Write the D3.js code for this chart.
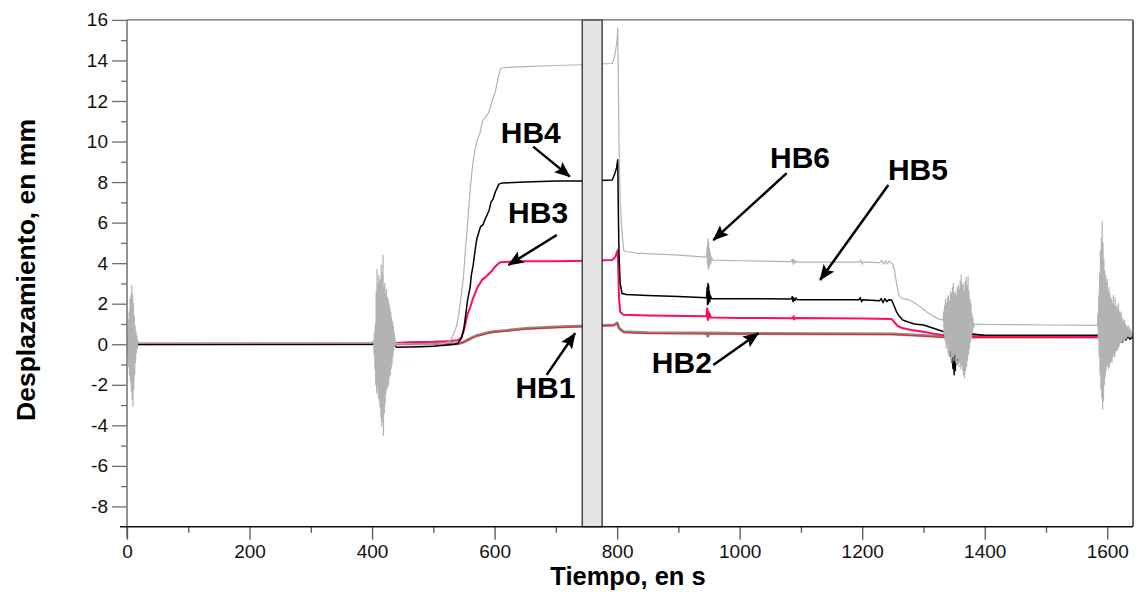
<!DOCTYPE html>
<html>
<head>
<meta charset="utf-8">
<script src="https://cdn.jsdelivr.net/npm/d3@7"></script>
<style>
  body { margin: 0; background: #fff; }
  svg { display: block; font-family: "Liberation Sans", Arial, sans-serif; }
</style>
</head>
<body>
<svg id="chart" width="1137" height="598"></svg>
<script>
// ---------------- DATA ----------------
const xTicks = [0, 200, 400, 600, 800, 1000, 1200, 1400, 1600];
const xMinorTicks = [100, 300, 500, 700, 900, 1100, 1300, 1500];
const yTicks = [-8, -6, -4, -2, 0, 2, 4, 6, 8, 10, 12, 14, 16];
const yMinorTicks = [-7, -5, -3, -1, 1, 3, 5, 7, 9, 11, 13, 15];
const xDomain = [0, 1642];
const yDomain = [-9, 16];
const shadedSpan = [743, 775.5];

// HB6 (light gray)
const hb6 = [
  [0,0],[0.7,0.5],[1.4,-0.6],[2.1,1.2],[2.8,-1.1],[3.5,1.6],[4.2,-1.5],[4.9,2.2],[5.6,-1.8],[6.3,2.4],[7,-2.3],[7.7,2.9],[8.4,-2.7],[9.1,2.5],[9.8,-3.06],[10.5,2.0],[11.2,-2.2],[11.9,1.4],[12.6,-1.5],[13.3,0.9],[14,-0.9],[14.7,0.6],[15.4,-0.4],[16.1,0.4],[16.8,-0.2],[17.5,0.2],[18.5,0.05],
  [200,0.05],[400,0.05],[402.5,0.2],[403.2,-0.5],[403.9,0.6],[404.6,-1.2],[405.3,1.0],[406,-2.0],[406.7,2.6],[407.4,-2.4],[408.1,3.7],[408.8,-2.1],[409.5,3.0],[410.2,-2.6],[410.9,3.4],[411.6,-2.8],[412.3,3.1],[413,-3.1],[413.7,3.2],[414.4,-3.6],[415.1,3.9],[415.8,-4.05],[416.5,3.5],[417.2,-3.8],[417.9,4.4],[418.6,-4.5],[419.3,2.8],[420,-3.4],[420.7,3.0],[421.4,-2.9],[422.1,2.5],[422.8,-2.4],[423.5,2.7],[424.2,-2.2],[424.9,2.3],[425.6,-2.1],[426.3,2.2],[427,-2.0],[427.7,2.0],[428.4,-1.6],[429.1,1.8],[429.8,-1.5],[430.5,1.6],[431.2,-1.2],[431.9,1.3],[432.6,-1.0],[433.3,1.1],[434,-0.6],[434.7,0.9],[435.4,-0.3],[436.1,0.6],[436.8,-0.1],[437.5,0.3],[438.2,0.0],[439.5,0.03],
  [480,0.0],[510,0.02],[520,0.06],[528,0.2],[533,0.5],[538,0.9],[542,1.6],[546,2.5],[549,3.3],[552,4.5],[556,6.0],[560,7.6],[564,8.8],[568,9.6],[572,10.1],[576,10.4],[580,11.0],[585,11.2],[590,11.4],[594,11.8],[598,12.2],[601,12.4],[604,12.9],[607,13.3],[610,13.6],[615,13.65],[650,13.7],[700,13.75],[750,13.8],[792,13.85],[796,14.2],[800,15.0],[801,15.6],[803,10.0],[805,7.0],[808,5.5],[811,4.6],[830,4.5],[900,4.4],[946,4.3],
  [947,4.8],[947.6,3.9],[948.2,5.2],[948.8,3.7],[949.4,5.0],[950,3.8],[950.6,4.7],[951.2,3.9],[952,4.5],[953,4.0],[954,4.3],[956,4.15],[1000,4.12],[1084,4.08],[1086,4.2],[1087,3.95],[1088,4.18],[1090,4.0],[1092,4.12],[1094,4.05],[1196,4.05],[1198,4.15],[1200,3.95],[1202,4.05],[1229,4.03],[1232,4.15],[1235,3.95],[1238,4.12],[1241,3.96],[1244,4.1],[1247,4.02],
  [1250,3.95],[1253,3.6],[1256,3.0],[1260,2.4],[1265,2.25],[1275,2.2],[1283,2.1],[1290,1.95],[1295,1.85],[1305,1.6],[1315,1.4],[1325,1.25],[1331,1.2],
  [1332,1.2],[1332.8,1.6],[1333.6,0.5],[1334.4,1.9],[1335.2,0.2],[1336,2.2],[1336.8,-0.2],[1337.6,2.0],[1338.4,0.0],[1339.2,2.3],[1340,-0.4],[1340.8,2.4],[1341.6,-0.6],[1342.4,2.1],[1343.2,-0.3],[1344,2.6],[1344.8,-0.7],[1345.6,2.5],[1346.4,-0.9],[1347.2,2.8],[1348,-0.6],[1348.8,3.0],[1349.6,-0.8],[1350.4,2.5],[1351.2,-0.5],[1352,2.6],[1352.8,-0.9],[1353.6,2.4],[1354.4,-1.0],[1355.2,2.8],[1356,-0.7],[1356.8,2.9],[1357.6,-1.1],[1358.4,2.7],[1359.2,-0.9],[1360,3.1],[1360.8,-1.2],[1361.6,3.42],[1362.4,-1.0],[1363.2,2.9],[1364,-1.3],[1364.8,3.0],[1365.6,-1.5],[1366.4,2.6],[1367.2,-1.65],[1368,3.1],[1368.8,-1.3],[1369.6,3.3],[1370.4,-1.1],[1371.2,2.9],[1372,-0.8],[1372.8,3.35],[1373.6,-0.5],[1374.4,2.6],[1375.2,-0.2],[1376,2.2],[1376.8,0.1],[1377.6,2.0],[1378.4,0.3],[1379.2,1.5],[1380,0.6],[1380.8,1.3],[1381.6,0.8],[1383,1.0],
  [1400,0.98],[1500,0.95],[1584,0.93],
  [1584.7,1.5],[1585.4,0.2],[1586.1,2.4],[1586.8,-0.6],[1587.5,3.5],[1588.2,-1.5],[1588.9,4.6],[1589.6,-2.2],[1590.3,5.2],[1591,-2.6],[1591.7,6.05],[1592.4,-3.2],[1593.1,5.0],[1593.8,-2.8],[1594.5,4.2],[1595.2,-2.0],[1595.9,3.6],[1596.6,-1.6],[1597.3,3.4],[1598,-1.3],[1598.7,3.0],[1599.4,-1.1],[1600.1,3.2],[1600.8,-1.0],[1601.5,2.6],[1602.2,-1.2],[1602.9,2.8],[1603.6,-1.1],[1604.3,2.5],[1605,-0.9],[1605.7,2.3],[1606.4,-0.8],[1607.1,2.2],[1607.8,-0.9],[1608.5,2.0],[1609.2,-0.6],[1609.9,2.4],[1610.6,-0.5],[1611.3,1.9],[1612,-0.6],[1612.7,2.3],[1613.4,-0.4],[1614.1,1.8],[1614.8,-0.3],[1615.5,1.9],[1616.2,-0.3],[1616.9,1.7],[1617.6,-0.2],[1618.3,2.0],[1619,-0.1],[1619.7,1.6],[1620.4,0.0],[1621.1,1.5],[1621.8,0.1],[1622.5,1.6],[1623.2,0.1],[1623.9,1.3],[1624.6,0.2],[1625.3,1.2],[1626,0.1],[1626.7,1.1],[1627.4,0.3],[1628.1,1.2],[1628.8,0.2],[1629.5,1.0],[1630.2,0.3],[1630.9,0.9],[1631.6,0.3],[1632.3,0.9],[1633,0.4],[1633.7,0.8],[1634.4,0.4],[1635.1,0.9],[1635.8,0.35],[1636.5,0.7],[1637.2,0.4],[1637.9,0.75],[1638.6,0.35],[1639.3,0.6],[1640,0.45],[1641,0.55],[1642,0.5]
];

// HB4 (black)
const hb4 = [
  [0,0],[400,0],[405,0.1],[410,-0.3],[415,0.3],[420,-0.4],[425,0.2],[430,-0.2],[436,-0.05],[440,-0.15],[480,-0.12],[500,-0.1],[520,-0.05],[535,0.0],[540,0.05],
  [546,0.3],[550,0.8],[553,1.5],[556,2.2],[560,2.8],[562,3.4],[565,3.9],[568,4.6],[571,5.2],[574,5.5],[577,5.8],[581,5.9],[585,6.2],[588,6.4],[591,6.6],[594,7.0],[598,7.2],[601,7.5],[604,7.7],[607,7.9],[612,7.95],[650,8.0],[700,8.05],[750,8.05],[792,8.1],[796,8.4],[799,8.7],[801,9.1],[802,6.5],[803,4.5],[805,3.0],[808,2.5],[815,2.45],[850,2.4],[900,2.35],[946,2.3],
  [947,2.8],[947.6,1.95],[948.2,3.0],[948.8,2.0],[949.4,2.9],[950,2.1],[950.6,2.6],[951.2,2.1],[952,2.4],[954,2.25],[1000,2.25],[1084,2.23],[1086,2.35],[1087,2.1],[1088,2.3],[1090,2.15],[1092,2.28],[1094,2.2],[1195,2.2],[1197,2.3],[1199,2.1],[1201,2.2],[1228,2.15],[1231,2.25],[1234,2.05],[1237,2.25],[1240,2.1],[1243,2.2],[1248,2.18],
  [1252,1.9],[1256,1.6],[1260,1.4],[1266,1.2],[1275,1.1],[1285,1.0],[1300,0.95],[1310,0.85],[1320,0.75],[1332,0.63],[1338,0.55],
  [1340,0.5],[1341,0.9],[1342,-0.2],[1343,0.7],[1344,-0.6],[1345,0.9],[1346,-0.9],[1347,0.6],[1348,-1.2],[1349,0.8],[1350,-1.5],[1351,0.5],[1352,-1.3],[1353,0.6],[1354,-1.0],[1355,0.7],[1357,-0.8],[1358,0.5],[1360,-0.5],[1361,0.6],[1363,-0.3],[1365,0.5],[1367,-0.1],[1369,0.55],[1372,0.4],[1380,0.5],[1400,0.45],[1500,0.45],[1588,0.45],
  [1590,0.6],[1592,0.2],[1595,0.7],[1600,-0.2],[1603,0.5],[1606,-0.4],[1609,0.5],[1612,-0.3],[1615,0.4],[1618,0.0],[1621,0.5],[1624,0.1],[1627,0.4],[1630,0.2],[1634,0.45],[1637,0.25],[1642,0.35]
];

// HB3 (pink)
const hb3 = [
  [0,0.02],[400,0.02],[440,0.06],[460,0.1],[500,0.12],[520,0.15],[540,0.2],[546,0.35],[550,0.7],[553,1.1],[556,1.5],[560,1.8],[564,2.2],[568,2.5],[572,2.8],[576,3.0],[580,3.2],[585,3.3],[590,3.45],[595,3.6],[600,3.8],[605,3.95],[609,4.05],[650,4.1],[700,4.1],[750,4.12],[792,4.16],[797,4.3],[801,4.65],[802,3.5],[803,2.3],[805,1.6],[810,1.45],[850,1.42],[946,1.38],
  [947,1.78],[948,1.2],[949,1.6],[950,1.3],[951,1.5],[953,1.32],[1000,1.3],[1087,1.28],[1088,1.38],[1089,1.22],[1091,1.3],[1200,1.27],[1248,1.25],[1252,1.1],[1258,0.9],[1265,0.8],[1280,0.7],[1300,0.62],[1320,0.5],[1340,0.42],[1360,0.4],[1400,0.4],[1585,0.38],[1595,0.5],[1600,0.2],[1610,0.45],[1620,0.3],[1642,0.35]
];

// HB1 (red)
const hb1 = [
  [0,0],[540,0.0],[550,0.1],[560,0.25],[570,0.4],[580,0.45],[590,0.55],[600,0.6],[620,0.65],[650,0.75],[700,0.82],[750,0.88],[795,0.92],[800,1.05],[803,0.8],[810,0.58],[850,0.53],[1000,0.5],[1250,0.48],[1300,0.4],[1340,0.33],[1642,0.33]
];

// HB2 (dark gray)
const hb2 = [
  [0,0],[540,0.02],[550,0.12],[560,0.28],[570,0.42],[580,0.5],[590,0.58],[600,0.63],[620,0.68],[650,0.78],[700,0.85],[750,0.9],[795,0.95],[800,1.05],[803,0.8],[810,0.62],[850,0.57],[946,0.55],[948,0.4],[950,0.55],[1000,0.53],[1250,0.5],[1300,0.43],[1340,0.36],[1642,0.36]
];

const seriesList = [
  { name: "HB2", data: hb2, color: "#8a8a8a", width: 3 },
  { name: "HB1", data: hb1, color: "#ff1a1a", width: 1 },
  { name: "HB3", data: hb3, color: "#ff0a64", width: 2 },
  { name: "HB4", data: hb4, color: "#000000", width: 1.5 },
  { name: "HB6", data: hb6, color: "#b3b3b3", width: 1.2 }
];

// Annotations (data coordinates)
const labels = [
  { text: "HB4", at: [610, 9.93], from: [663, 9.75], to: [722.8, 8.27] },
  { text: "HB3", at: [622, 5.98], from: [701.5, 5.39], to: [622.6, 3.91] },
  { text: "HB6", at: [1049.5, 8.7], from: [1076.8, 8.44], to: [957, 5.14] },
  { text: "HB5", at: [1242, 8.11], from: [1242.6, 7.86], to: [1131.3, 3.17] },
  { text: "HB1", at: [634, -2.65], from: [685, -1.51], to: [731.4, 0.54] },
  { text: "HB2", at: [856.6, -1.42], from: [957, -1.02], to: [1030.4, 0.54] }
];

// ---------------- CHART ----------------
const svg = d3.select("#chart");
const x = d3.scaleLinear().domain(xDomain).range([127, 1133]);
const y = d3.scaleLinear().domain(yDomain).range([526.7, 19.9]);
const [x0, x1] = x.range();
const [yb, yt] = y.range();

svg.append("defs").append("clipPath").attr("id", "plotclip")
  .append("rect").attr("x", x0).attr("y", yt - 2).attr("width", x1 - x0).attr("height", yb - yt + 2);

const marker = svg.select("defs").append("marker")
  .attr("id", "arrow").attr("markerUnits", "userSpaceOnUse")
  .attr("markerWidth", 18).attr("markerHeight", 14)
  .attr("refX", 15).attr("refY", 6.5).attr("orient", "auto")
  .attr("viewBox", "0 0 18 13");
marker.append("path").attr("d", "M0,0 L16,6.5 L0,13 L3,6.5 Z").attr("fill", "#000");

// series lines
const line = d3.line().x(d => x(d[0])).y(d => y(d[1]));
const g = svg.append("g").attr("clip-path", "url(#plotclip)");
seriesList.forEach(s => {
  g.append("path").datum(s.data)
    .attr("d", line)
    .attr("fill", "none")
    .attr("stroke", s.color)
    .attr("stroke-width", s.width)
    .attr("stroke-linejoin", "round");
});

// shaded band
svg.append("rect")
  .attr("x", x(shadedSpan[0])).attr("y", yt)
  .attr("width", x(shadedSpan[1]) - x(shadedSpan[0]))
  .attr("height", yb - yt)
  .attr("fill", "#e5e5e5").attr("stroke", "#1a1a1a").attr("stroke-width", 1.2);

// frame (top gray, right dark)
svg.append("line").attr("x1", x0).attr("x2", x1).attr("y1", yt).attr("y2", yt)
  .attr("stroke", "#666").attr("stroke-width", 1.3);
svg.append("line").attr("x1", x1).attr("x2", x1).attr("y1", yt).attr("y2", yb)
  .attr("stroke", "#333").attr("stroke-width", 1.5);

// Y axis
const yAxis = svg.append("g").attr("transform", `translate(${x0},0)`)
  .call(d3.axisLeft(y).tickValues(yTicks).tickSize(15).tickPadding(4).tickFormat(d => String(d)));
yAxis.select(".domain").remove();
yAxis.selectAll(".tick line").attr("stroke", "#6e6e6e").attr("stroke-width", 1.3);
yAxis.selectAll(".tick text").attr("font-size", 19).attr("fill", "#111")
  .attr("font-family", "'Liberation Sans', Arial, sans-serif");
const yMinor = svg.append("g").attr("transform", `translate(${x0},0)`)
  .call(d3.axisLeft(y).tickValues(yMinorTicks).tickSize(6).tickFormat(""));
yMinor.select(".domain").remove();
yMinor.selectAll(".tick line").attr("stroke", "#6e6e6e").attr("stroke-width", 1.3);
svg.append("line").attr("x1", x0).attr("x2", x0).attr("y1", yt).attr("y2", yb + 11)
  .attr("stroke", "#777").attr("stroke-width", 1.6);

// X axis
const xAxis = svg.append("g").attr("transform", `translate(0,${yb})`)
  .call(d3.axisBottom(x).tickValues(xTicks).tickSize(13).tickPadding(5).tickFormat(d => String(d)));
xAxis.select(".domain").remove();
xAxis.selectAll(".tick line").attr("stroke", "#555").attr("stroke-width", 1.3);
xAxis.selectAll(".tick text").attr("font-size", 19).attr("fill", "#111")
  .attr("font-family", "'Liberation Sans', Arial, sans-serif");
const xMinor = svg.append("g").attr("transform", `translate(0,${yb})`)
  .call(d3.axisBottom(x).tickValues(xMinorTicks).tickSize(6).tickFormat(""));
xMinor.select(".domain").remove();
xMinor.selectAll(".tick line").attr("stroke", "#555").attr("stroke-width", 1.3);
svg.append("line").attr("x1", x0 - 7).attr("x2", x1).attr("y1", yb).attr("y2", yb)
  .attr("stroke", "#111").attr("stroke-width", 1.5);

// axis titles
svg.append("text").attr("x", 628).attr("y", 585).attr("text-anchor", "middle")
  .attr("font-size", 25.5).attr("font-weight", "bold").attr("fill", "#000")
  .text("Tiempo, en s");
svg.append("text").attr("transform", "translate(35,270) rotate(-90)").attr("text-anchor", "middle")
  .attr("font-size", 26.5).attr("font-weight", "bold").attr("fill", "#000")
  .text("Desplazamiento, en mm");

// annotations
const ann = svg.append("g");
labels.forEach(l => {
  ann.append("line")
    .attr("x1", x(l.from[0])).attr("y1", y(l.from[1]))
    .attr("x2", x(l.to[0])).attr("y2", y(l.to[1]))
    .attr("stroke", "#000").attr("stroke-width", 2.5)
    .attr("marker-end", "url(#arrow)");
  ann.append("text").attr("x", x(l.at[0])).attr("y", y(l.at[1]))
    .attr("font-size", 30).attr("font-weight", "bold").attr("fill", "#000")
    .text(l.text);
});
</script>
</body>
</html>
